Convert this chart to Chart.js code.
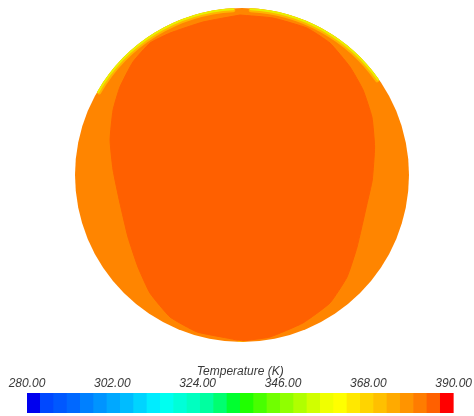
<!DOCTYPE html>
<html lang="en">
<head>
<meta charset="UTF-8">
<script src="https://cdn.jsdelivr.net/npm/chart.js"></script>
<title>Temperature contour</title>
<style>
  body { margin: 0; background: #fff; width: 474px; height: 416px; position: relative; overflow: hidden; }
  #contour { position: absolute; left: 75px; top: 8px; }
  #legend { position: absolute; left: 0; top: 358px; }
</style>
</head>
<body>
<canvas id="contour" width="334" height="334"></canvas>
<canvas id="legend" width="474" height="58"></canvas>
<script>
// colour bar range and ticks (K)
const tempMin = 280;
const tempMax = 390;
const tempTicks = [280, 302, 324, 346, 368, 390];

// 32 discrete bands of the colour map, low to high
const bandColors = [
  '#0000ee', '#0048ff', '#0058ff', '#0068ff', '#0080ff', '#0094ff', '#00a8ff', '#00bcff',
  '#00d4ff', '#00ecff', '#00fff0', '#00ffd8', '#00ffc0', '#00ffa0', '#00ff70', '#00ff30',
  '#20ff00', '#48ff00', '#70ff00', '#90ff00', '#b0ff00', '#d0ff00', '#f0ff00', '#ffff00',
  '#ffe800', '#ffd400', '#ffc000', '#ffaa00', '#ff9400', '#ff7c00', '#ff6000', '#ff0000'
];

// contour bands in the section (radius = 1)
const outerColor = '#ff8500';   // ~381 K, fills the whole section
const innerColor = '#ff6000';   // ~385 K core
const rimColor = '#e8f000';     // ~365 K at the upper wall
const rimEdge = '#ffb400';

// core boundary
const coreX = [-0.012, 0.186, 0.389, 0.527, 0.647, 0.725, 0.778, 0.794, 0.780, 0.748, 0.689, 0.629,
  0.527, 0.365, 0.168, 0.048, 0.006, -0.090, -0.269, -0.431, -0.551, -0.623, -0.683, -0.731,
  -0.772, -0.790, -0.772, -0.731, -0.653, -0.551, -0.431, -0.234, -0.012];
const coreY = [0.958, 0.940, 0.880, 0.790, 0.647, 0.509, 0.347, 0.168, -0.030, -0.175, -0.431, -0.611,
  -0.766, -0.886, -0.970, -0.988, -0.994, -0.976, -0.940, -0.850, -0.707, -0.551, -0.371, -0.168,
  0.030, 0.210, 0.389, 0.527, 0.677, 0.790, 0.850, 0.916, 0.958];

// small warm spike at the bottom wall
const spikeX = [-0.025, 0.0, 0.025, -0.025];
const spikeY = [-0.998, -0.930, -0.998, -0.998];

// warmer rim arcs at the wall (degrees)
const rimArcs = [[93, 150], [35, 87]];

const core = coreX.map((x, i) => ({ x: x, y: coreY[i] }));
const spike = spikeX.map((x, i) => ({ x: x, y: spikeY[i] }));

const sectionPlugin = {
  id: 'section',
  beforeDatasetsDraw(chart) {
    const { ctx, scales: { x, y } } = chart;
    const cx = x.getPixelForValue(0), cy = y.getPixelForValue(0);
    const r = x.getPixelForValue(1) - cx;
    ctx.save();
    ctx.fillStyle = outerColor;
    ctx.beginPath();
    ctx.arc(cx, cy, r, 0, Math.PI * 2);
    ctx.fill();
    ctx.restore();
  },
  afterDatasetsDraw(chart) {
    const { ctx, scales: { x, y } } = chart;
    const cx = x.getPixelForValue(0), cy = y.getPixelForValue(0);
    const r = x.getPixelForValue(1) - cx;
    ctx.save();
    ctx.lineCap = 'round';
    rimArcs.forEach(a => {
      const a0 = -a[1] * Math.PI / 180, a1 = -a[0] * Math.PI / 180;
      ctx.strokeStyle = rimEdge;
      ctx.lineWidth = 4;
      ctx.beginPath();
      ctx.arc(cx, cy, r - 2, a0, a1);
      ctx.stroke();
      ctx.strokeStyle = rimColor;
      ctx.lineWidth = 2;
      ctx.beginPath();
      ctx.arc(cx, cy, r - 1, a0, a1);
      ctx.stroke();
    });
    ctx.restore();
  }
};

new Chart(document.getElementById('contour'), {
  type: 'line',
  data: {
    datasets: [
      { data: core, borderColor: innerColor, backgroundColor: innerColor, borderWidth: 1,
        fill: 'shape', tension: 0.15, pointRadius: 0 },
      { data: spike, borderColor: '#ffc400', backgroundColor: '#ffd000', borderWidth: 0,
        fill: 'shape', pointRadius: 0 }
    ]
  },
  options: {
    responsive: false,
    animation: false,
    events: [],
    layout: { padding: 0 },
    plugins: { legend: { display: false }, tooltip: { enabled: false } },
    scales: {
      x: { type: 'linear', min: -1, max: 1, display: false },
      y: { type: 'linear', min: -1, max: 1, display: false }
    }
  },
  plugins: [sectionPlugin]
});

const labelFont = { family: 'Liberation Sans', size: 12, style: 'italic' };

new Chart(document.getElementById('legend'), {
  type: 'bar',
  data: {
    labels: bandColors.map((c, i) => i),
    datasets: [{
      data: bandColors.map(() => 1),
      backgroundColor: bandColors,
      borderWidth: 0,
      barPercentage: 1,
      categoryPercentage: 1
    }]
  },
  options: {
    responsive: false,
    animation: false,
    events: [],
    layout: { padding: { left: 27, right: 19, top: 6, bottom: 3 } },
    plugins: { legend: { display: false }, tooltip: { enabled: false } },
    scales: {
      x: { display: false },
      y: { display: false, min: 0, max: 1 },
      t: {
        type: 'linear',
        position: 'top',
        offset: false,
        min: tempMin,
        max: tempMax,
        afterBuildTicks(axis) { axis.ticks = tempTicks.map(v => ({ value: v })); },
        afterFit(axis) { axis.height = 29; },
        grid: { display: false, drawTicks: false },
        border: { display: false },
        ticks: {
          font: labelFont, color: '#3a3a3a', padding: 2,
          maxRotation: 0, autoSkip: false,
          callback: v => Number(v).toFixed(2)
        },
        title: {
          display: true, text: 'Temperature (K)', font: labelFont, color: '#3a3a3a',
          padding: { top: 0, bottom: 0 }
        }
      }
    }
  }
});
</script>
</body>
</html>
